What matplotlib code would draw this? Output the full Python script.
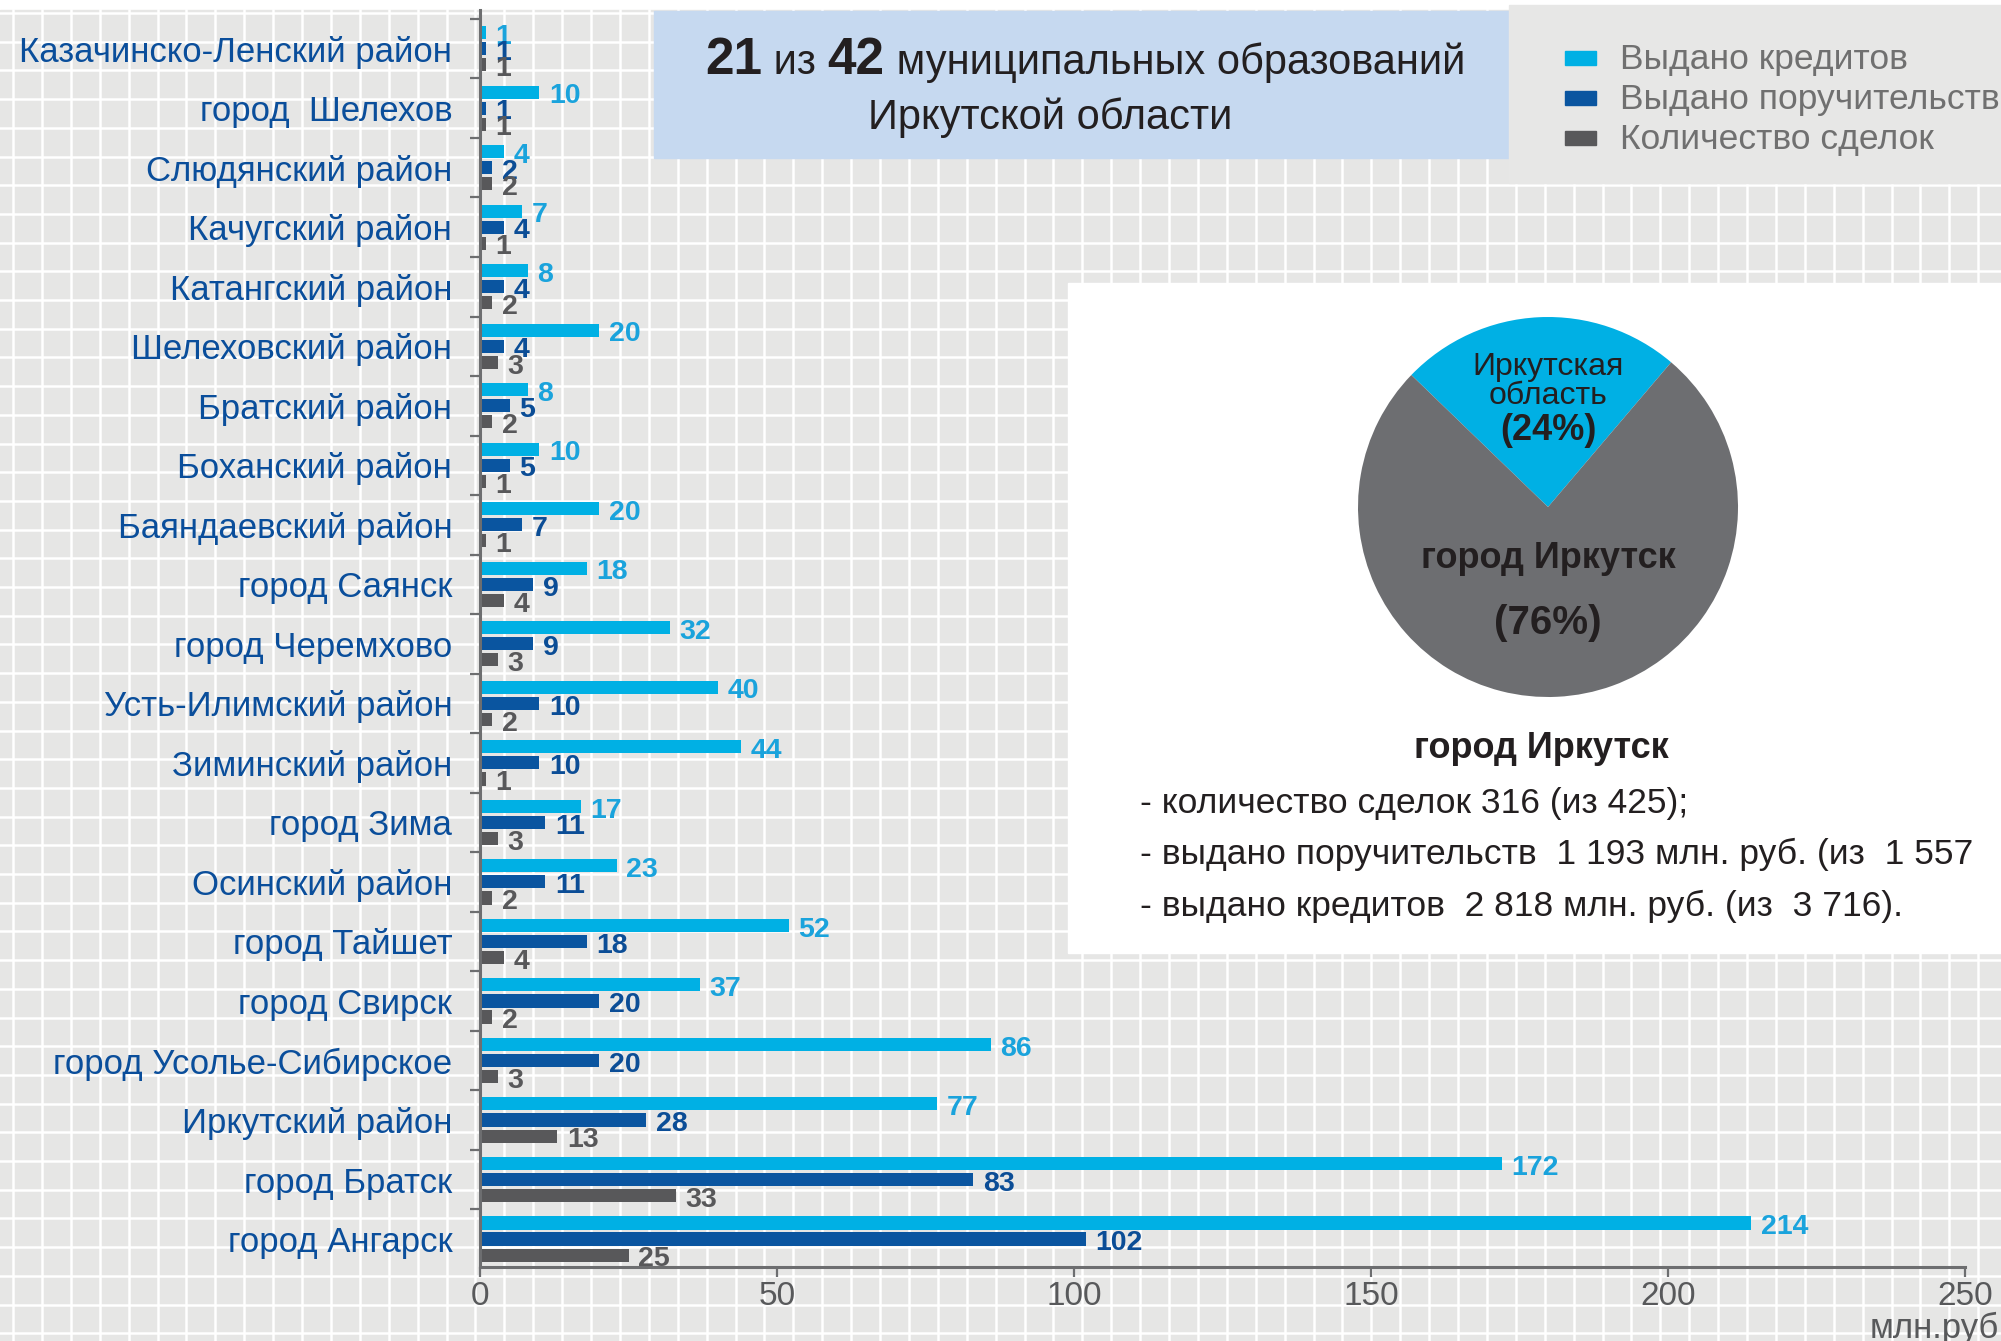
import numpy as np
import matplotlib
matplotlib.use('Agg')
import matplotlib.pyplot as plt
from matplotlib.patches import Rectangle

categories = ['Казачинско-Ленский район', 'город  Шелехов', 'Слюдянский район',
              'Качугский район', 'Катангский район', 'Шелеховский район',
              'Братский район', 'Боханский район', 'Баяндаевский район',
              'город Саянск', 'город Черемхово', 'Усть-Илимский район',
              'Зиминский район', 'город Зима', 'Осинский район', 'город Тайшет',
              'город Свирск', 'город Усолье-Сибирское', 'Иркутский район',
              'город Братск', 'город Ангарск']
credits = [1, 10, 4, 7, 8, 20, 8, 10, 20, 18, 32, 40, 44, 17, 23, 52, 37, 86, 77, 172, 214]
guarantees = [1, 1, 2, 4, 4, 4, 5, 5, 7, 9, 9, 10, 10, 11, 11, 18, 20, 20, 28, 83, 102]
deals = [1, 1, 2, 1, 2, 3, 2, 1, 1, 4, 3, 2, 1, 3, 2, 4, 2, 3, 13, 33, 25]
xticks = [0, 50, 100, 150, 200, 250]
legend_labels = ['Выдано кредитов', 'Выдано поручительств', 'Количество сделок']
pie_labels = ['Иркутская\nобласть', 'город Иркутск']
pie_shares = [24, 76]
irk_lines = ['- количество сделок 316 (из 425);',
             '- выдано поручительств  1 193 млн. руб. (из  1 557',
             '- выдано кредитов  2 818 млн. руб. (из  3 716).']

plt.rcParams['font.family'] = ['Liberation Sans', 'DejaVu Sans']

c_cred, c_guar, c_deal = '#00b0e4', '#0a55a0', '#58585a'
l_cred, l_guar, l_deal = '#1aa3dc', '#0b4d96', '#58585a'
cat_col = '#0a4e9b'
dark = '#231f20'
axis_gray = '#6d6e70'

W, H = 2001, 1341
fig = plt.figure(figsize=(W / 100, H / 100), dpi=100)

# background with white grid
bg = fig.add_axes([0, 0, 1, 1])
bg.set_xlim(0, W)
bg.set_ylim(H, 0)
bg.axis('off')
bg.add_patch(Rectangle((0, 10), W, H, color='#e6e6e5', zorder=0))
for gx in np.arange(13, W, 28.9):
    bg.plot([gx, gx], [10, H], color='white', lw=1.8, zorder=1)
for gy in np.arange(13, H, 28.7):
    bg.plot([0, W], [gy, gy], color='white', lw=1.8, zorder=1)
bg.add_patch(Rectangle((654, 11), 1509 - 654, 147, color='#c6d9f0', zorder=2))
bg.add_patch(Rectangle((1509, 5), W - 1509, 178, color='#e7e7e6', zorder=2))
bg.add_patch(Rectangle((1068, 283), W - 1068, 670, color='white', zorder=2))

# legend
for i, (lab, c) in enumerate(zip(legend_labels, [c_cred, c_guar, c_deal])):
    yy = 58 + i * 40
    bg.add_patch(Rectangle((1565, yy - 7), 31, 14, color=c, zorder=3))
    bg.text(1620, yy + 1, lab, va='center', ha='left', fontsize=25.5, color='#707070', zorder=3)

# main bar chart
ax = fig.add_axes([480 / W, 1 - 1267 / H, 1485 / W, (1267 - 10) / H])
ax.patch.set_alpha(0)
y = np.arange(len(categories))
h, off = 0.22, 0.27
ax.barh(y - off, credits, h, color=c_cred)
ax.barh(y, guarantees, h, color=c_guar)
ax.barh(y + off, deals, h, color=c_deal)
for vals, dy, col in [(credits, -off, l_cred), (guarantees, 0, l_guar), (deals, off, l_deal)]:
    for yi, v in zip(y, vals):
        ax.annotate(str(v), (v, yi + dy), xytext=(7, -3), textcoords='offset points',
                    va='center', ha='left', fontsize=20.5, fontweight='bold', color=col)
ax.set_xlim(0, 250)
ax.set_ylim(20.47, -0.65)
ax.set_yticks(y, categories)
ax.set_yticks(np.arange(len(categories)) - 0.5, minor=True)
ax.tick_params(axis='y', which='major', length=0, pad=20, labelsize=25, labelcolor=cat_col)
ax.tick_params(axis='y', which='minor', length=7, width=1.6, color=axis_gray, direction='out')
ax.set_xticks(xticks)
ax.tick_params(axis='x', length=7, width=1.6, color=axis_gray, pad=3,
               labelsize=24, labelcolor='#58595b')
for s in ['top', 'right']:
    ax.spines[s].set_visible(False)
for s in ['left', 'bottom']:
    ax.spines[s].set_color(axis_gray)
    ax.spines[s].set_linewidth(2.2)
fig.text((W - 2) / W, 1 - 1328 / H, 'млн.руб', ha='right', va='center',
         fontsize=25, color='#58595b')

# title with mixed weights
renderer = fig.canvas.get_renderer()


def draw_line(pieces, cx, base):
    texts = []
    for s, size, weight in pieces:
        texts.append(fig.text(0, 1 - base / H, s, fontsize=size, fontweight=weight,
                              va='baseline', ha='left', color=dark))
    widths = [t.get_window_extent(renderer).width for t in texts]
    x = cx - sum(widths) / 2
    for t, w in zip(texts, widths):
        t.set_x(x / W)
        x += w


draw_line([('21', 37, 'bold'), (' из ', 30, 'normal'), ('42', 37, 'bold'),
           (' муниципальных образований', 30, 'normal')], 1085, 74)
draw_line([('Иркутской области', 30, 'normal')], 1050, 129)

# pie inset
pcx, pcy, pr = 1548, 507, 190
pax = fig.add_axes([(pcx - pr) / W, 1 - (pcy + pr) / H, 2 * pr / W, 2 * pr / H])
pax.pie(pie_shares, colors=[c_cred, '#6d6e71'], startangle=49.6, counterclock=True, radius=1)
pax.set_xlim(-1, 1)
pax.set_ylim(-1, 1)
pax.text(0, 0.66, pie_labels[0], ha='center', va='center', fontsize=23,
         color=dark, linespacing=0.95)
pax.text(0, 0.40, '(%d%%)' % pie_shares[0], ha='center', va='center',
         fontsize=26, fontweight='bold', color=dark)
pax.text(0, -0.27, pie_labels[1], ha='center', va='center', fontsize=26,
         fontweight='bold', color=dark)
pax.text(0, -0.61, '(%d%%)' % pie_shares[1], ha='center', va='center',
         fontsize=29, fontweight='bold', color=dark)

fig.text(1541 / W, 1 - 749 / H, pie_labels[1], ha='center', va='center',
         fontsize=26, fontweight='bold', color=dark)
for i, line in enumerate(irk_lines):
    fig.text(1140 / W, 1 - (803 + i * 51.5) / H, line, ha='left', va='center',
             fontsize=25.5, color=dark)

fig.savefig('out.png', dpi=100)
